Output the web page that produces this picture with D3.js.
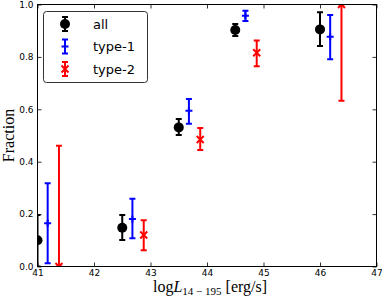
<!DOCTYPE html>
<html>
<head>
<meta charset="utf-8">
<script src="https://cdn.jsdelivr.net/npm/d3@7"></script>
<style>
  body { margin: 0; background: #fff; }
  svg { display: block; }
  .tick text { font-family: "DejaVu Sans", sans-serif; font-size: 9px; fill: #000; }
</style>
</head>
<body>
<div id="chart"></div>
<script>
// Set the dimensions of the SVG container
const width = 382;
const height = 299;
const margin = { left: 37.5, right: 5.5, top: 4.5, bottom: 32.5 };

// Luminosity bins and fractions
const allX = [41.0, 42.5, 43.5, 44.5, 46.0];
const allFrac = [0.100, 0.148, 0.531, 0.903, 0.905];
const allLo = [0.000, 0.101, 0.502, 0.880, 0.842];
const allHi = [0.197, 0.197, 0.563, 0.926, 0.970];

const type1X = [41.18, 42.68, 43.68, 44.68, 46.18];
const type1Frac = [0.165, 0.181, 0.594, 0.957, 0.877];
const type1Lo = [0.012, 0.108, 0.545, 0.937, 0.791];
const type1Hi = [0.318, 0.259, 0.639, 0.976, 0.960];

const type2X = [41.38, 42.88, 43.88, 44.88, 46.38];
const type2Frac = [0.000, 0.120, 0.485, 0.816, 1.000];
const type2Lo = [0.000, 0.062, 0.445, 0.764, 0.633];
const type2Hi = [0.461, 0.177, 0.529, 0.863, 1.000];

const xTicks = [41, 42, 43, 44, 45, 46, 47];
const yTicks = [0.0, 0.2, 0.4, 0.6, 0.8, 1.0];

const series = [
    { name: "all", color: "#000000", marker: "circle", x: allX, y: allFrac, lo: allLo, hi: allHi },
    { name: "type-1", color: "#0000ff", marker: "plus", x: type1X, y: type1Frac, lo: type1Lo, hi: type1Hi },
    { name: "type-2", color: "#ff0000", marker: "cross", x: type2X, y: type2Frac, lo: type2Lo, hi: type2Hi }
];

const xScale = d3.scaleLinear().domain([41, 47]).range([margin.left, width - margin.right]);
const yScale = d3.scaleLinear().domain([0, 1]).range([height - margin.bottom, margin.top]);

const svg = d3.select("#chart").append("svg")
    .attr("width", width)
    .attr("height", height);

svg.append("defs").append("clipPath")
    .attr("id", "plot-clip")
    .append("rect")
    .attr("x", xScale(41)).attr("y", yScale(1))
    .attr("width", xScale(47) - xScale(41))
    .attr("height", yScale(0) - yScale(1));

// Axes, ticks pointing inwards on all four sides
const tickLen = 4;
svg.append("g")
    .attr("transform", `translate(0, ${yScale(0)})`)
    .call(d3.axisBottom(xScale).tickValues(xTicks).tickSize(-tickLen).tickPadding(3).tickFormat(d3.format("d")))
    .call(g => g.select(".domain").remove());
svg.append("g")
    .attr("transform", `translate(0, ${yScale(1)})`)
    .call(d3.axisTop(xScale).tickValues(xTicks).tickSize(-tickLen).tickFormat(""))
    .call(g => g.select(".domain").remove());
svg.append("g")
    .attr("transform", `translate(${xScale(41)}, 0)`)
    .call(d3.axisLeft(yScale).tickValues(yTicks).tickSize(-tickLen).tickPadding(4).tickFormat(d3.format(".1f")))
    .call(g => g.select(".domain").remove());
svg.append("g")
    .attr("transform", `translate(${xScale(47)}, 0)`)
    .call(d3.axisRight(yScale).tickValues(yTicks).tickSize(-tickLen).tickFormat(""))
    .call(g => g.select(".domain").remove());
svg.selectAll(".tick line").attr("stroke", "#000").attr("stroke-width", 0.8);

// Draw one marker shape centered at (0,0)
function drawMarker(g, marker, color) {
    if (marker === "circle") {
        g.append("circle").attr("r", 5).attr("fill", color);
    } else if (marker === "plus") {
        g.append("line").attr("x1", -3.5).attr("x2", 3.5).attr("stroke", color).attr("stroke-width", 2);
        g.append("line").attr("y1", -3.5).attr("y2", 3.5).attr("stroke", color).attr("stroke-width", 2);
    } else {
        g.append("path").attr("d", "M-3.5,-3.5L3.5,3.5M-3.5,3.5L3.5,-3.5")
            .attr("stroke", color).attr("stroke-width", 2).attr("fill", "none");
    }
}

const plot = svg.append("g").attr("clip-path", "url(#plot-clip)");
const capW = 3;

series.forEach(s => {
    const pts = s.x.map((x, i) => ({ x, y: s.y[i], lo: s.lo[i], hi: s.hi[i] }));
    const g = plot.append("g");
    g.selectAll(".err").data(pts).enter().append("line")
        .attr("x1", d => xScale(d.x)).attr("x2", d => xScale(d.x))
        .attr("y1", d => yScale(d.lo)).attr("y2", d => yScale(d.hi))
        .attr("stroke", s.color).attr("stroke-width", 2);
    ["lo", "hi"].forEach(k => {
        g.selectAll(".cap-" + k).data(pts).enter().append("line")
            .attr("x1", d => xScale(d.x) - capW).attr("x2", d => xScale(d.x) + capW)
            .attr("y1", d => yScale(d[k])).attr("y2", d => yScale(d[k]))
            .attr("stroke", s.color).attr("stroke-width", 2);
    });
    pts.forEach(d => {
        const m = g.append("g").attr("transform", `translate(${xScale(d.x)}, ${yScale(d.y)})`);
        drawMarker(m, s.marker, s.color);
    });
});

// Frame
svg.append("rect")
    .attr("x", xScale(41)).attr("y", yScale(1))
    .attr("width", xScale(47) - xScale(41))
    .attr("height", yScale(0) - yScale(1))
    .attr("fill", "none").attr("stroke", "#000").attr("stroke-width", 1);

// Legend
const legend = svg.append("g").attr("transform", "translate(43.5, 11.5)");
legend.append("rect")
    .attr("width", 104).attr("height", 71).attr("rx", 3)
    .attr("fill", "#fff").attr("stroke", "#000").attr("stroke-width", 0.8);
series.forEach((s, i) => {
    const row = legend.append("g").attr("transform", `translate(21.5, ${12.5 + i * 22.5})`);
    row.append("line").attr("y1", -7).attr("y2", 7).attr("stroke", s.color).attr("stroke-width", 2);
    [-7, 7].forEach(v => row.append("line").attr("x1", -capW).attr("x2", capW)
        .attr("y1", v).attr("y2", v).attr("stroke", s.color).attr("stroke-width", 2));
    drawMarker(row, s.marker, s.color);
    row.append("text")
        .attr("x", 28).attr("y", 4.5)
        .attr("font-family", "DejaVu Sans, sans-serif").attr("font-size", 13)
        .text(s.name);
});

// Axis labels
svg.append("text")
    .attr("transform", `translate(14, ${(yScale(0) + yScale(1)) / 2}) rotate(-90)`)
    .attr("text-anchor", "middle")
    .attr("font-family", "Liberation Serif, serif").attr("font-size", 16)
    .text("Fraction");

const xl = svg.append("text")
    .attr("x", (xScale(41) + xScale(47)) / 2 + 3).attr("y", 292)
    .attr("text-anchor", "middle")
    .attr("font-family", "Liberation Serif, serif").attr("font-size", 16);
xl.append("tspan").text("log");
xl.append("tspan").attr("font-style", "italic").text("L");
xl.append("tspan").attr("font-size", 11).attr("dy", 3).text("14 \u2212 195");
xl.append("tspan").attr("dy", -3).text(" [erg/s]");
</script>
</body>
</html>
